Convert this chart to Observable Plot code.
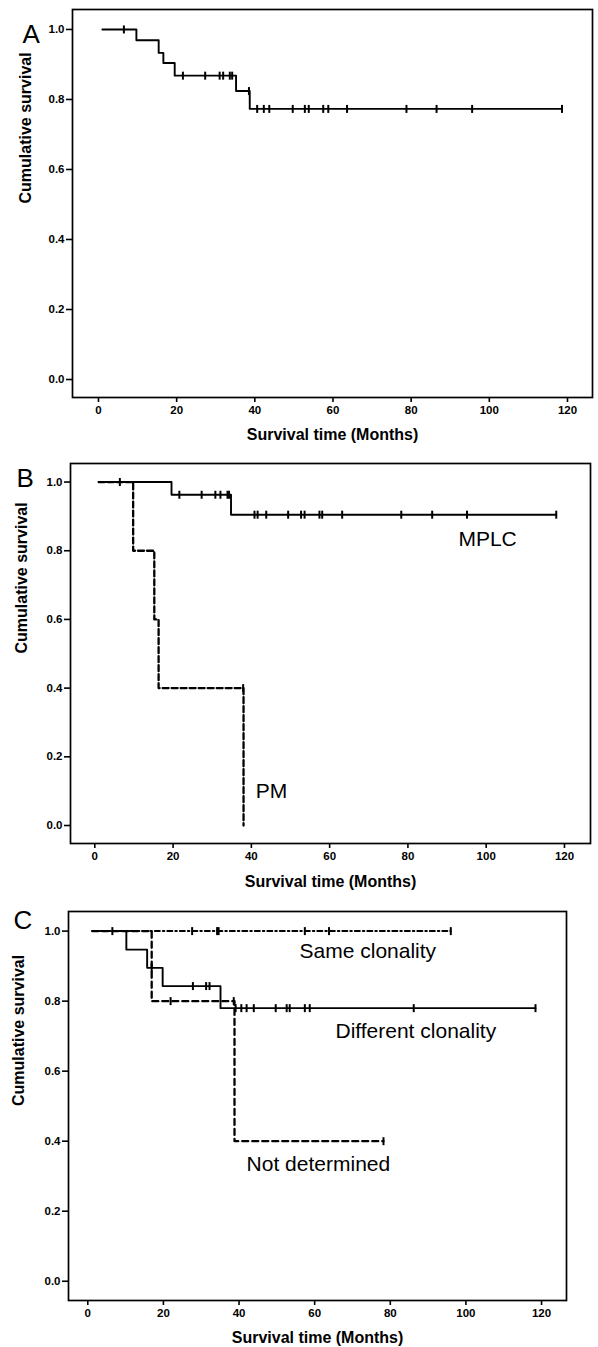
<!DOCTYPE html>
<html>
<head>
<meta charset="utf-8">
<script src="https://cdn.jsdelivr.net/npm/d3@7"></script>
<script src="https://cdn.jsdelivr.net/npm/@observablehq/plot@0.6"></script>
<style>
  html, body { margin: 0; padding: 0; background: #fff; }
  #chart { width: 598px; }
  #chart svg { display: block; }
</style>
</head>
<body>
<div id="chart"></div>
<script>
// ---------- tick labels & titles ----------
const xTicks = [0, 20, 40, 60, 80, 100, 120];
const yTicks = [0, 0.2, 0.4, 0.6, 0.8, 1.0];
const xTitle = "Survival time (Months)";
const yTitle = "Cumulative survival";

// ---------- Panel A: all patients ----------
const aTimes  = [1, 9.7, 15.4, 16.6, 19.5, 35.2, 38.7, 118.6];
const aSurv   = [1, 0.969, 0.933, 0.904, 0.868, 0.824, 0.773, 0.773];
const aCensor = [6.5, 21.6, 27.3, 31, 31.9, 33.6, 34.2, 38.5, 40.6, 42.3, 43.7, 49.7, 52.8, 53.8, 57.5, 58.8, 63.6, 78.8, 86.5, 95.6, 118.6];

// ---------- Panel B: MPLC vs PM ----------
const bGroups = ["MPLC", "PM"];
const mplcTimes  = [1, 19.6, 34.8, 117.9];
const mplcSurv   = [1, 0.963, 0.905, 0.905];
const mplcCensor = [6.4, 21.6, 27.3, 30.8, 32.1, 33.9, 34.3, 40.8, 41.6, 43.8, 49.4, 52.7, 53.6, 57.4, 58.1, 63.2, 78.3, 86.2, 95.1, 117.9];
const pmTimes  = [1, 9.8, 15.2, 16.3, 38.0];
const pmSurv   = [1, 0.8, 0.6, 0.4, 0.0];
const pmCensor = [37.9];

// ---------- Panel C: clonality ----------
const cGroups = ["Same clonality", "Different clonality", "Not determined"];
const sameTimes  = [1.2, 96];
const sameSurv   = [1, 1];
const sameCensor = [6.5, 27.6, 34.2, 34.6, 57.4, 63.8, 96];
const diffTimes  = [1.2, 10.2, 15.7, 19.8, 35.1, 118.4];
const diffSurv   = [1, 0.947, 0.895, 0.843, 0.78, 0.78];
const diffCensor = [16.9, 27.8, 31.3, 32.2, 39.1, 40.6, 42, 43.9, 49.7, 52.6, 53.4, 57.4, 58.7, 86.2, 118.4];
const ndTimes  = [1.2, 16.9, 38.8, 78.2];
const ndSurv   = [1, 0.8, 0.4, 0.4];
const ndCensor = [21.9, 38.6, 78.2];

// ---------- helpers ----------
function stepData(times, surv) {
  return times.map((t, i) => ({t, s: surv[i]}));
}
function survAt(times, surv, t) {
  let s = surv[0];
  for (let i = 0; i < times.length; i++) if (times[i] <= t) s = surv[i];
  return s;
}
function censorData(times, surv, cens) {
  return cens.map(t => ({t, s: survAt(times, surv, t)}));
}
const vTick = {
  draw(context, size) {
    const h = Math.sqrt(size / Math.PI);
    context.moveTo(0, -h);
    context.lineTo(0, h);
  }
};

const FONT = "'Liberation Sans', Arial, Helvetica, sans-serif";

function panel(cfg) {
  const marks = [
    Plot.frame({stroke: "black", strokeWidth: 1.7}),
    Plot.axisX({ticks: xTicks, tickSize: 5, tickPadding: 3, fontSize: 11.5, fontWeight: "bold", label: null, strokeWidth: 1.6}),
    Plot.axisY({ticks: yTicks, tickFormat: d3.format(".1f"), tickSize: 6, tickPadding: 2, fontSize: 11.5, fontWeight: "bold", label: null, strokeWidth: 1.6}),
    Plot.text([xTitle], {frameAnchor: "bottom", dy: cfg.xTitleDy, fontSize: 16, fontWeight: "bold", fill: "black"}),
    Plot.text([yTitle], {frameAnchor: "left", rotate: -90, dx: cfg.yTitleDx, fontSize: 16, fontWeight: "bold", fill: "black"}),
    Plot.text([cfg.letter], {frameAnchor: "top-left", textAnchor: "start", dx: cfg.letterDx, dy: cfg.letterDy, fontSize: 26, fill: "black"})
  ];
  for (const c of cfg.curves) {
    marks.push(Plot.line(stepData(c.times, c.surv), {x: "t", y: "s", curve: "step-after", stroke: "black", strokeWidth: c.width || 1.9, strokeDasharray: c.dash}));
    marks.push(Plot.dot(censorData(c.times, c.surv, c.censor), {x: "t", y: "s", symbol: vTick, r: 4, stroke: "black", strokeWidth: 2, fill: "none"}));
  }
  if (cfg.labels) {
    marks.push(Plot.text(cfg.labels, {x: "t", y: "s", text: "name", textAnchor: "start", fontSize: 21, fill: "black"}));
  }
  return Plot.plot({
    width: 598,
    height: cfg.height,
    marginLeft: cfg.ml, marginRight: cfg.mr, marginTop: cfg.mt, marginBottom: cfg.mb,
    x: {domain: cfg.xDomain},
    y: {domain: cfg.yDomain},
    style: {fontFamily: FONT, background: "white", color: "black", overflow: "visible"},
    marks
  });
}

const chart = document.getElementById("chart");

chart.append(panel({
  letter: "A", height: 450, ml: 72, mr: 6, mt: 9, mb: 53,
  xDomain: [-6.65, 126.4], yDomain: [-0.0514, 1.057],
  xTitleDy: 42, yTitleDx: -47, letterDx: -50, letterDy: 15,
  curves: [{times: aTimes, surv: aSurv, censor: aCensor}]
}));

chart.append(panel({
  letter: "B", height: 446, ml: 70, mr: 8, mt: 13, mb: 53,
  xDomain: [-6.21, 126.65], yDomain: [-0.0524, 1.054],
  xTitleDy: 43, yTitleDx: -49, letterDx: -54, letterDy: 5.5,
  curves: [
    {times: pmTimes, surv: pmSurv, censor: pmCensor, dash: "6,3", width: 2.3},
    {times: mplcTimes, surv: mplcSurv, censor: mplcCensor}
  ],
  labels: [
    {name: bGroups[0], t: 92.9, s: 0.834},
    {name: bGroups[1], t: 41.1, s: 0.100}
  ]
}));

chart.append(panel({
  letter: "C", height: 451, ml: 68, mr: 32, mt: 15, mb: 47,
  xDomain: [-5.10, 126.6], yDomain: [-0.055, 1.056],
  xTitleDy: 42, yTitleDx: -50, letterDx: -55, letterDy: -1,
  curves: [
    {times: sameTimes, surv: sameSurv, censor: sameCensor, dash: "5,3,1.5,3", width: 2},
    {times: ndTimes, surv: ndSurv, censor: ndCensor, dash: "6,4", width: 2.3},
    {times: diffTimes, surv: diffSurv, censor: diffCensor}
  ],
  labels: [
    {name: cGroups[0], t: 56.0, s: 0.942},
    {name: cGroups[1], t: 65.5, s: 0.713},
    {name: cGroups[2], t: 42.0, s: 0.333}
  ]
}));
</script>
</body>
</html>
